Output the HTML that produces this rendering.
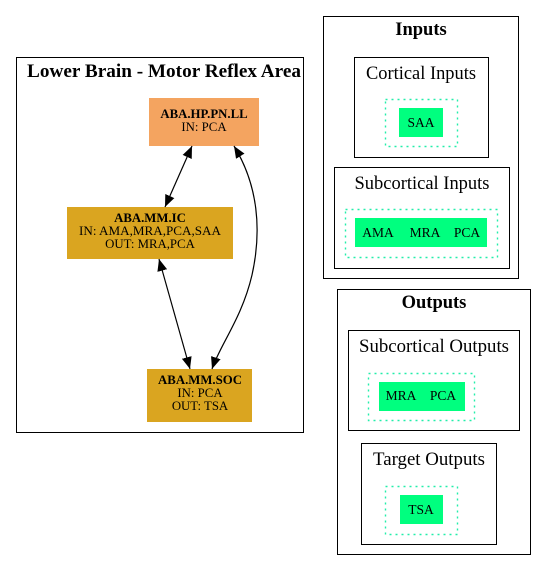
<!DOCTYPE html>
<html><head><meta charset="utf-8"><style>
html,body{margin:0;padding:0;background:#fff;width:547px;height:571px;overflow:hidden}
svg text{font-family:"Liberation Serif",serif;fill:#000}
</style></head><body>
<svg width="547" height="571" viewBox="0 0 547 571" xmlns="http://www.w3.org/2000/svg">
<defs>
<marker id="a" viewBox="0 0 12 10" refX="12" refY="5" markerWidth="12" markerHeight="10" markerUnits="userSpaceOnUse" orient="auto-start-reverse">
<path d="M0,0 L12,5 L0,10 z" fill="#000"/></marker>
</defs>
<g fill="none" stroke="#000" stroke-width="1">
<rect x="16.5" y="57.5" width="287" height="375"/>
<rect x="323.5" y="16.5" width="195" height="262"/>
<rect x="354.5" y="57.5" width="134" height="100"/>
<rect x="334.5" y="167.5" width="175" height="101"/>
<rect x="337.5" y="289.5" width="193" height="265"/>
<rect x="348.5" y="330.5" width="171" height="100"/>
<rect x="361.5" y="443.5" width="135" height="101"/>
</g>
<g fill="none" stroke="#22eeaa" stroke-width="1.4" stroke-dasharray="2,4">
<rect x="385.5" y="99.5" width="72" height="47"/>
<rect x="345.5" y="209.5" width="152" height="48"/>
<rect x="368.5" y="373.5" width="106" height="47"/>
<rect x="385.5" y="486.5" width="72" height="48"/>
</g>
<g fill="#00ff7f">
<rect x="399" y="108" width="44" height="29"/>
<rect x="355" y="218" width="132" height="29"/>
<rect x="379" y="382" width="86" height="29"/>
<rect x="400" y="495" width="43" height="29"/>
</g>
<rect x="149" y="98" width="110" height="48" fill="#f4a460"/>
<rect x="67" y="207" width="166" height="52" fill="#daa520"/>
<rect x="147" y="369" width="105" height="53" fill="#daa520"/>
<g stroke="#000" stroke-width="1.2" fill="none">
<line x1="192" y1="146" x2="165" y2="207" marker-start="url(#a)" marker-end="url(#a)"/>
<line x1="159" y1="259" x2="190" y2="369" marker-start="url(#a)" marker-end="url(#a)"/>
<path d="M234,146 C258,185 262,230 252,275 C242,318 220,345 212,369" marker-start="url(#a)" marker-end="url(#a)"/>
</g>
<g text-anchor="middle">
<text x="164" y="77" font-size="18.5" font-weight="bold" textLength="274" lengthAdjust="spacingAndGlyphs">Lower Brain - Motor Reflex Area</text>
<text x="204" y="118" font-size="12.8" font-weight="bold">ABA.HP.PN.LL</text>
<text x="204" y="131" font-size="12.8">IN: PCA</text>
<text x="150" y="222" font-size="12.8" font-weight="bold">ABA.MM.IC</text>
<text x="150" y="235" font-size="12.8" textLength="142" lengthAdjust="spacingAndGlyphs">IN: AMA,MRA,PCA,SAA</text>
<text x="150" y="248" font-size="12.8">OUT: MRA,PCA</text>
<text x="200" y="384" font-size="12.8" font-weight="bold">ABA.MM.SOC</text>
<text x="200" y="397" font-size="12.8">IN: PCA</text>
<text x="200" y="410" font-size="12.8">OUT: TSA</text>
<text x="421" y="35" font-size="18.5" font-weight="bold">Inputs</text>
<text x="421" y="79" font-size="18.5" textLength="110" lengthAdjust="spacingAndGlyphs">Cortical Inputs</text>
<text x="421" y="127" font-size="13.5">SAA</text>
<text x="422" y="189" font-size="18.5" textLength="135" lengthAdjust="spacingAndGlyphs">Subcortical Inputs</text>
<text x="378" y="237" font-size="13.5">AMA</text>
<text x="425" y="237" font-size="13.5">MRA</text>
<text x="467" y="237" font-size="13.5">PCA</text>
<text x="434" y="308" font-size="18.5" font-weight="bold">Outputs</text>
<text x="434" y="352" font-size="18.5" textLength="150" lengthAdjust="spacingAndGlyphs">Subcortical Outputs</text>
<text x="401" y="400" font-size="13.5">MRA</text>
<text x="443" y="400" font-size="13.5">PCA</text>
<text x="429" y="465" font-size="18.5" textLength="112" lengthAdjust="spacingAndGlyphs">Target Outputs</text>
<text x="421" y="514" font-size="13.5">TSA</text>
</g>
</svg>
</body></html>
